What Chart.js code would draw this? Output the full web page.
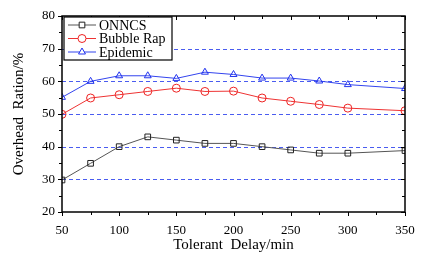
<!DOCTYPE html>
<html>
<head>
<meta charset="utf-8">
<script src="https://cdn.jsdelivr.net/npm/chart.js@4.4.1/dist/chart.umd.min.js"></script>
<style>
html,body{margin:0;padding:0;background:#fff;}
#wrap{width:421px;height:254px;position:relative;}
</style>
</head>
<body>
<div id="wrap"><canvas id="c" width="421" height="254"></canvas></div>
<script>
const delays = [50, 75, 100, 125, 150, 175, 200, 225, 250, 275, 300, 350];
const onncs = [29.8, 34.9, 40, 43, 42, 41, 41, 40, 39, 38, 38, 38.8];
const bubbleRap = [49.9, 54.9, 55.9, 56.9, 57.9, 56.9, 57, 54.9, 53.9, 52.9, 51.8, 51];
const epidemic = [55.1, 60, 61.7, 61.7, 60.9, 62.8, 62.1, 61, 61, 60.1, 59, 57.8];
const seriesNames = ['ONNCS', 'Bubble Rap', 'Epidemic'];
const xTicks = [50, 100, 150, 200, 250, 300, 350];
const yTicks = [20, 30, 40, 50, 60, 70, 80];
const gridValues = [30, 40, 50, 60, 70];

const SERIF = '"Liberation Serif", "DejaVu Serif", serif';

function pts(vals){ return delays.map((d,i)=>({x:d,y:vals[i]})); }

const styles = [
  {color:'#555555', point:'rect', pc:'#222222'},
  {color:'#ee3333', point:'circle', pc:'#ee2222'},
  {color:'#3344ee', point:'triangle', pc:'#2233ee'}
];

const datasets = [onncs, bubbleRap, epidemic].map((v,i)=>({
  label: seriesNames[i],
  data: pts(v),
  borderColor: styles[i].color,
  borderWidth: 1,
  pointStyle: styles[i].point,
  pointRadius: 4,
  pointBorderColor: styles[i].pc,
  pointBackgroundColor: 'rgba(0,0,0,0)',
  pointBorderWidth: 1,
  tension: 0
}));

const gridPlugin = {
  id: 'dashgrid',
  beforeDatasetsDraw(chart){
    const ctx = chart.ctx, a = chart.chartArea, ys = chart.scales.y;
    ctx.save();
    ctx.strokeStyle = '#4a5cf0';
    ctx.lineWidth = 1;
    ctx.setLineDash([4, 3]);
    ctx.beginPath();
    gridValues.forEach(v => {
      const py = Math.round(ys.getPixelForValue(v)) + 0.5;
      ctx.moveTo(a.left, py); ctx.lineTo(a.right, py);
    });
    ctx.stroke();
    ctx.restore();
  }
};

const framePlugin = {
  id: 'frame',
  afterDraw(chart){
    const ctx = chart.ctx, a = chart.chartArea;
    const xs = chart.scales.x, ys = chart.scales.y;
    ctx.save();
    ctx.strokeStyle = '#000';
    ctx.lineWidth = 1.5;
    ctx.strokeRect(a.left, a.top, a.right - a.left, a.bottom - a.top);
    ctx.lineWidth = 1;
    ctx.beginPath();
    for (let v = 50; v <= 350; v += 25) {
      const px = Math.round(xs.getPixelForValue(v)) + 0.5;
      const major = v % 50 === 0;
      const L = major ? 4 : 3;
      ctx.moveTo(px, a.bottom); ctx.lineTo(px, a.bottom + L);
      ctx.moveTo(px, a.top); ctx.lineTo(px, a.top + L);
    }
    for (let v = 20; v <= 80; v += 5) {
      const py = Math.round(ys.getPixelForValue(v)) + 0.5;
      const major = v % 10 === 0;
      const L = major ? 4 : 3;
      ctx.moveTo(a.left, py); ctx.lineTo(a.left - L, py);
      ctx.moveTo(a.right, py); ctx.lineTo(a.right - L, py);
    }
    ctx.stroke();

    // legend box
    const bx = a.left + 2, by = a.top + 1, bw = 108, bh = 43;
    ctx.fillStyle = '#fff';
    ctx.fillRect(bx, by, bw, bh);
    ctx.lineWidth = 1.2;
    ctx.strokeStyle = '#000';
    ctx.strokeRect(bx, by, bw, bh);
    ctx.font = '14px ' + SERIF;
    ctx.textBaseline = 'middle';
    chart.data.datasets.forEach((ds, i) => {
      const y = by + 8 + i * 13.5;
      const x0 = bx + 4, x1 = bx + 32, xm = (x0 + x1) / 2;
      ctx.strokeStyle = ds.borderColor;
      ctx.lineWidth = 1;
      ctx.beginPath(); ctx.moveTo(x0, y); ctx.lineTo(x1, y); ctx.stroke();
      ctx.strokeStyle = ds.pointBorderColor;
      ctx.fillStyle = '#fff';
      Chart.helpers.drawPoint(ctx, {pointStyle: ds.pointStyle, radius: 4, borderWidth: 1}, xm, y);
      ctx.fillStyle = '#000';
      ctx.fillText(ds.label, x1 + 3, y + 1);
    });
    ctx.restore();
  }
};

new Chart(document.getElementById('c'), {
  type: 'line',
  data: { datasets },
  options: {
    responsive: false,
    animation: false,
    devicePixelRatio: 1,
    layout: { padding: { left: 0, right: 16, top: 16, bottom: 0 } },
    plugins: { legend: { display: false }, tooltip: { enabled: false } },
    scales: {
      x: {
        type: 'linear', min: 50, max: 350,
        afterBuildTicks(s){ s.ticks = xTicks.map(v=>({value:v})); },
        afterFit(s){ s.height = 42; s.paddingLeft = 0; s.paddingRight = 0; },
        grid: { display: false, drawTicks: false },
        border: { display: false },
        ticks: { color: '#000', font: { family: SERIF, size: 13 }, padding: 11, maxRotation: 0 },
        title: { display: true, text: 'Tolerant  Delay/min', color: '#000', font: { family: SERIF, size: 15 }, padding: { top: 3, bottom: 0 } }
      },
      y: {
        min: 20, max: 80,
        afterBuildTicks(s){ s.ticks = yTicks.map(v=>({value:v})); },
        afterFit(s){ s.width = 62; s.paddingTop = 0; s.paddingBottom = 0; },
        grid: { display: true, drawOnChartArea: false, drawTicks: false },
        border: { display: false },
        ticks: { color: '#000', font: { family: SERIF, size: 13 }, padding: 7 },
        title: { display: true, text: 'Overhead  Ration/%', color: '#000', font: { family: SERIF, size: 15 }, padding: { top: 10, bottom: 0 } }
      }
    }
  },
  plugins: [gridPlugin, framePlugin]
});
</script>
</body>
</html>
